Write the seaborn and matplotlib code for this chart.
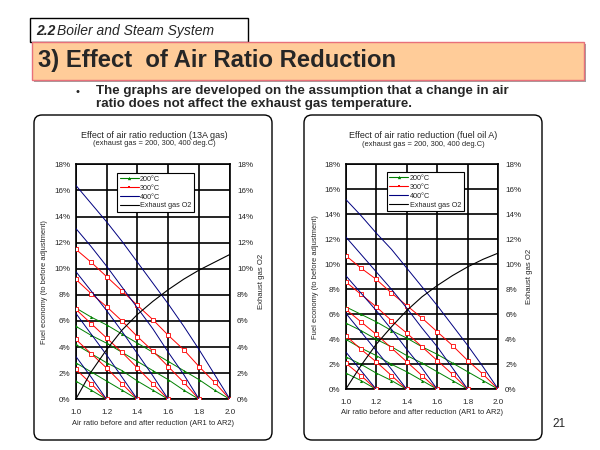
import matplotlib
matplotlib.use("Agg")
import matplotlib.pyplot as plt
import seaborn as sns
from matplotlib.patches import Rectangle, FancyBboxPatch
from matplotlib.lines import Line2D
from matplotlib.ticker import FuncFormatter

# x positions (air ratio after reduction) and the starting air ratios
x_steps = [1.0, 1.1, 1.2, 1.3, 1.4, 1.5, 1.6, 1.7, 1.8, 1.9, 2.0]
ar1_values = [1.2, 1.4, 1.6, 1.8, 2.0]

# 13A gas: fuel economy (%) for each AR1 line, read at x = 1.0, 1.1, ... AR1
gas_200 = [
    [1.4, 0.7, 0.0],
    [2.8, 2.1, 1.4, 0.7, 0.0],
    [4.2, 3.5, 2.8, 2.2, 1.4, 0.7, 0.0],
    [5.6, 4.9, 4.3, 3.6, 2.9, 2.2, 1.5, 0.7, 0.0],
    [7.0, 6.3, 5.7, 5.0, 4.3, 3.6, 2.9, 2.2, 1.5, 0.7, 0.0],
]
gas_300 = [
    [2.3, 1.2, 0.0],
    [4.6, 3.5, 2.4, 1.2, 0.0],
    [6.9, 5.8, 4.7, 3.6, 2.4, 1.2, 0.0],
    [9.2, 8.1, 7.1, 6.0, 4.8, 3.7, 2.5, 1.3, 0.0],
    [11.5, 10.5, 9.4, 8.3, 7.2, 6.1, 4.9, 3.8, 2.5, 1.3, 0.0],
]
gas_400 = [
    [3.3, 1.7, 0.0],
    [6.6, 5.0, 3.4, 1.7, 0.0],
    [9.8, 8.3, 6.8, 5.2, 3.5, 1.8, 0.0],
    [13.1, 11.7, 10.2, 8.6, 7.0, 5.4, 3.6, 1.9, 0.0],
    [16.4, 15.0, 13.6, 12.1, 10.5, 8.9, 7.3, 5.6, 3.8, 1.9, 0.0],
]
gas_o2 = [0.0, 2.1, 3.8, 5.3, 6.5, 7.5, 8.4, 9.2, 9.9, 10.5, 11.1]

# fuel oil A
oil_200 = [
    [1.3, 0.7, 0.0],
    [2.6, 2.0, 1.3, 0.7, 0.0],
    [4.0, 3.3, 2.7, 2.0, 1.4, 0.7, 0.0],
    [5.3, 4.7, 4.0, 3.4, 2.7, 2.1, 1.4, 0.7, 0.0],
    [6.6, 6.0, 5.4, 4.7, 4.1, 3.4, 2.8, 2.1, 1.4, 0.7, 0.0],
]
oil_300 = [
    [2.1, 1.1, 0.0],
    [4.3, 3.2, 2.2, 1.1, 0.0],
    [6.4, 5.4, 4.4, 3.3, 2.2, 1.1, 0.0],
    [8.6, 7.6, 6.6, 5.5, 4.5, 3.4, 2.3, 1.2, 0.0],
    [10.7, 9.7, 8.8, 7.7, 6.7, 5.7, 4.6, 3.5, 2.3, 1.2, 0.0],
]
oil_400 = [
    [3.0, 1.5, 0.0],
    [6.1, 4.6, 3.1, 1.6, 0.0],
    [9.1, 7.7, 6.3, 4.8, 3.2, 1.7, 0.0],
    [12.2, 10.8, 9.4, 8.0, 6.5, 4.9, 3.4, 1.7, 0.0],
    [15.2, 13.9, 12.5, 11.2, 9.7, 8.2, 6.7, 5.1, 3.5, 1.8, 0.0],
]
oil_o2 = [0.0, 1.9, 3.6, 5.0, 6.3, 7.4, 8.3, 9.1, 9.8, 10.4, 10.9]

x_ticks = [1.0, 1.2, 1.4, 1.6, 1.8, 2.0]
y_ticks = [0, 2, 4, 6, 8, 10, 12, 14, 16, 18]
legend_labels = ["200\u00b0C", "300\u00b0C", "400\u00b0C", "Exhaust gas O2"]

sns.set_style("white")
plt.rcParams["font.family"] = ["Liberation Sans", "DejaVu Sans"]

GREEN = "#008000"
RED = "#ff0000"
BLUE = "#000080"

fig = plt.figure(figsize=(6, 4.5), dpi=100)

# background layer in pixel coordinates
bg = fig.add_axes([0, 0, 1, 1])
bg.set_xlim(0, 600)
bg.set_ylim(450, 0)
bg.axis("off")

bg.add_patch(Rectangle((30, 18), 218, 24, facecolor="white", edgecolor="black", lw=1))
bg.text(36, 31, "2.2", fontsize=10, fontweight="bold", style="italic", va="center")
bg.text(57, 31, "Boiler and Steam System", fontsize=10, style="italic", va="center")

bg.add_patch(Rectangle((34, 44), 552, 38, facecolor="#a0a0a0", edgecolor="none"))
bg.add_patch(Rectangle((32, 42), 552, 38, facecolor="#ffcc99", edgecolor="#e8707a", lw=1))
bg.text(38, 61, "3) Effect  of Air Ratio Reduction", fontsize=17.2, fontweight="bold", va="center")

bg.text(76, 92, "\u2022", fontsize=8, va="center")
bg.text(96, 91, "The graphs are developed on the assumption that a change in air",
        fontsize=9.6, fontweight="bold", va="center")
bg.text(96, 104.5, "ratio does not affect the exhaust gas temperature.",
        fontsize=9.6, fontweight="bold", va="center")

for x0, x1 in [(34, 272), (304, 542)]:
    bg.add_patch(FancyBboxPatch((x0, 115), x1 - x0, 325, boxstyle="round,pad=0,rounding_size=8",
                                facecolor="white", edgecolor="black", lw=1))

bg.text(559, 424, "21", fontsize=8.5, ha="center", va="center")


def pct(v, pos):
    return "%d%%" % v


def draw_chart(rect, lines_200, lines_300, lines_400, o2, title, subtitle, tx, ty, legend_rect):
    ax = fig.add_axes(rect)
    styles = [
        (lines_200, GREEN, dict(marker="^", markersize=2.2, markerfacecolor=GREEN, markeredgewidth=0)),
        (lines_300, RED, dict(marker="s", markersize=2.2, markerfacecolor="white",
                              markeredgecolor=RED, markeredgewidth=0.6)),
        (lines_400, BLUE, dict()),
    ]
    for series, color, mk in styles:
        for ar1, vals in zip(ar1_values, series):
            sns.lineplot(x=x_steps[:len(vals)], y=vals, ax=ax, color=color, linewidth=0.7,
                         zorder=3, **mk)
    ax.set_xlim(1.0, 2.0)
    ax.set_ylim(0, 18)
    ax.set_xticks(x_ticks)
    ax.set_yticks(y_ticks)
    ax.xaxis.set_major_formatter(FuncFormatter(lambda v, p: "%.1f" % v))
    ax.yaxis.set_major_formatter(FuncFormatter(pct))
    ax.grid(True, color="black", linewidth=1.2)
    ax.tick_params(length=0, labelsize=5.8)
    ax.tick_params(axis="x", pad=7)
    ax.tick_params(axis="y", pad=4)
    for s in ax.spines.values():
        s.set_color("black")
        s.set_linewidth(1.2)
    ax.set_xlabel("Air ratio before and after reduction (AR1 to AR2)", fontsize=5.4)
    ax.set_ylabel("Fuel economy (to before adjustment)", fontsize=5.4)

    ax2 = ax.twinx()
    sns.lineplot(x=x_steps, y=o2, ax=ax2, color="black", linewidth=0.8)
    ax2.set_ylim(0, 18)
    ax2.set_yticks(y_ticks)
    ax2.yaxis.set_major_formatter(FuncFormatter(pct))
    ax2.tick_params(length=0, labelsize=5.8, pad=5)
    ax2.set_ylabel("Exhaust gas O2", fontsize=5.6)
    for s in ax2.spines.values():
        s.set_visible(False)

    ax.xaxis.set_label_coords(0.5, -0.087)
    ax.yaxis.set_label_coords(-0.177, 0.5)
    ax2.yaxis.set_label_coords(1.183, 0.5)

    handles = [
        Line2D([], [], color=GREEN, lw=0.8, marker="^", markersize=2.4, markeredgewidth=0),
        Line2D([], [], color=RED, lw=0.8, marker="s", markersize=2.0, markeredgewidth=0),
        Line2D([], [], color=BLUE, lw=0.8),
        Line2D([], [], color="black", lw=0.8),
    ]
    leg = ax2.legend(handles, legend_labels, loc="upper left", bbox_to_anchor=legend_rect,
                     fontsize=5.2, frameon=True, fancybox=False, edgecolor="black",
                     framealpha=1, handlelength=2.6, handletextpad=0.2, labelspacing=0.25,
                     borderpad=0.35, borderaxespad=0)
    leg.get_frame().set_linewidth(0.8)

    bg.text(tx, ty, title, fontsize=6.5, ha="center", va="center")
    bg.text(tx, ty + 8.5, subtitle, fontsize=5.4, ha="center", va="center")


draw_chart([75.7 / 600, 1 - 399.3 / 450, 154.3 / 600, 235 / 450],
           gas_200, gas_300, gas_400, gas_o2,
           "Effect of air ratio reduction (13A gas)",
           "(exhaust gas = 200, 300, 400 deg.C)", 154, 135.3, (0.27, 0.962))

draw_chart([345.7 / 600, 1 - 389.3 / 450, 152.6 / 600, 225 / 450],
           oil_200, oil_300, oil_400, oil_o2,
           "Effect of air ratio reduction (fuel oil A)",
           "(exhaust gas = 200, 300, 400 deg.C)", 423.5, 135.7, (0.27, 0.964))

fig.savefig("out.png", dpi=100)
